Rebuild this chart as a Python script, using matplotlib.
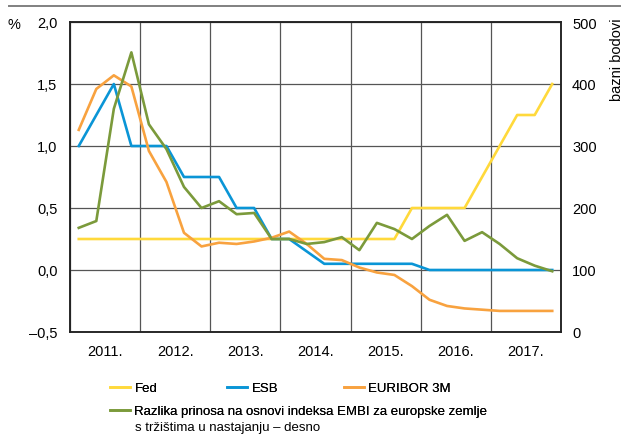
#!/usr/bin/env python3
"""Policy rates, EURIBOR and EMBI spread, 2011-2017."""

import matplotlib

matplotlib.use("Agg")
import matplotlib.pyplot as plt
from matplotlib.lines import Line2D
from matplotlib.ticker import FixedLocator, FuncFormatter
import numpy as np
import pandas as pd

QUARTERS = pd.period_range("2011Q1", "2017Q4", freq="Q")

FED = [0.25] * 19 + [0.5, 0.5, 0.5, 0.5, 0.75, 1.0, 1.25, 1.25, 1.5]
ESB = [1.0, 1.25, 1.5, 1.0, 1.0, 1.0, 0.75, 0.75, 0.75, 0.5, 0.5, 0.25, 0.25, 0.15,
       0.05, 0.05, 0.05, 0.05, 0.05, 0.05, 0.0, 0.0, 0.0, 0.0, 0.0, 0.0, 0.0, 0.0]
EURIBOR = [1.13, 1.46, 1.57, 1.48, 0.96, 0.71, 0.30, 0.19, 0.22, 0.21, 0.23, 0.26, 0.31, 0.21,
           0.09, 0.08, 0.02, -0.02, -0.04, -0.13, -0.24, -0.29, -0.31, -0.32, -0.33, -0.33,
           -0.33, -0.33]
EMBI = [168, 179, 360, 451, 335, 295, 234, 200, 211, 190, 192, 150, 150, 142, 145, 153,
        132, 176, 166, 150, 171, 189, 147, 161, 142, 119, 107, 98]

YEARS = list(range(2011, 2018))
LEFT_TICKS = [-0.5, 0.0, 0.5, 1.0, 1.5, 2.0]
RIGHT_TICKS = [0, 100, 200, 300, 400, 500]

COLORS = {
    "fed": "#FFD93B",
    "esb": "#0A95D6",
    "euribor": "#F8A23F",
    "embi": "#7B9A3B",
}
FONT = ["Liberation Sans", "DejaVu Sans"]
SIZE = 10.5
LEGEND_SIZE = 9.5


def comma(value, _pos=None) -> str:
    text = f"{value:.1f}".replace(".", ",")
    return text.replace("-", "\u2013")


def main() -> None:
    plt.rcParams["font.family"] = FONT
    plt.rcParams["font.size"] = SIZE

    x = np.array([q.year + (q.quarter - 0.5) / 4 for q in QUARTERS])

    figure = plt.figure(figsize=(6.24, 4.35), dpi=100)
    axis = figure.add_axes([70 / 624, 1 - 333 / 435, 491 / 624, 310 / 435])
    right = axis.twinx()

    axis.plot(x, FED, color=COLORS["fed"], lw=1.9, zorder=3)
    axis.plot(x, ESB, color=COLORS["esb"], lw=1.9, zorder=3)
    axis.plot(x, EURIBOR, color=COLORS["euribor"], lw=1.9, zorder=3)
    right.plot(x, EMBI, color=COLORS["embi"], lw=1.9, zorder=3)

    axis.set_xlim(YEARS[0], YEARS[-1] + 1)
    axis.set_ylim(-0.5, 2.0)
    right.set_ylim(0, 500)

    axis.xaxis.set_major_locator(FixedLocator(YEARS + [YEARS[-1] + 1]))
    axis.xaxis.set_minor_locator(FixedLocator([y + 0.5 for y in YEARS]))
    axis.xaxis.set_major_formatter(FuncFormatter(lambda v, p: ""))
    axis.xaxis.set_minor_formatter(FuncFormatter(lambda v, p: f"{int(v)}."))
    axis.tick_params(axis="x", which="both", length=0, pad=9, labelsize=SIZE)

    axis.set_yticks(LEFT_TICKS)
    axis.yaxis.set_major_formatter(FuncFormatter(comma))
    axis.tick_params(axis="y", length=0, pad=9, labelsize=SIZE)
    right.set_yticks(RIGHT_TICKS)
    right.tick_params(axis="y", length=0, pad=8, labelsize=SIZE)

    axis.grid(True, which="major", color="#555555", lw=0.9, zorder=1)
    axis.set_axisbelow(True)
    for ax in (axis, right):
        for spine in ax.spines.values():
            spine.set_color("#222222")
            spine.set_linewidth(1.1)

    figure.text(14 / 624, 1 - 25 / 435, "%", ha="center", va="center")
    figure.text(617 / 624, 1 - 18 / 435, "bazni bodovi", rotation=90,
                ha="center", va="top")
    figure.add_artist(Line2D([9 / 624, 620 / 624], [1 - 7 / 435, 1 - 7 / 435],
                             color="#808080", lw=1.4))

    def entry(color, label, x0, y0):
        handle = Line2D([], [], color=color, lw=1.9)
        legend = figure.legend(handles=[handle], labels=[label], loc="center left",
                               bbox_to_anchor=(x0 / 624, 1 - y0 / 435), frameon=False,
                               handlelength=1.5, handletextpad=0.35, borderpad=0,
                               borderaxespad=0, fontsize=LEGEND_SIZE)
        figure.add_artist(legend)

    entry(COLORS["fed"], "Fed", 110, 389)
    entry(COLORS["esb"], "ESB", 227, 389)
    entry(COLORS["euribor"], "EURIBOR 3M", 344, 389)
    entry(COLORS["embi"], "Razlika prinosa na osnovi indeksa EMBI za europske zemlje",
          110, 412)
    figure.text(135 / 624, 1 - 428 / 435, "s tržištima u nastajanju \u2013 desno",
                ha="left", va="center", fontsize=LEGEND_SIZE)

    figure.savefig("out.png", dpi=100)
    plt.close(figure)


if __name__ == "__main__":
    main()
